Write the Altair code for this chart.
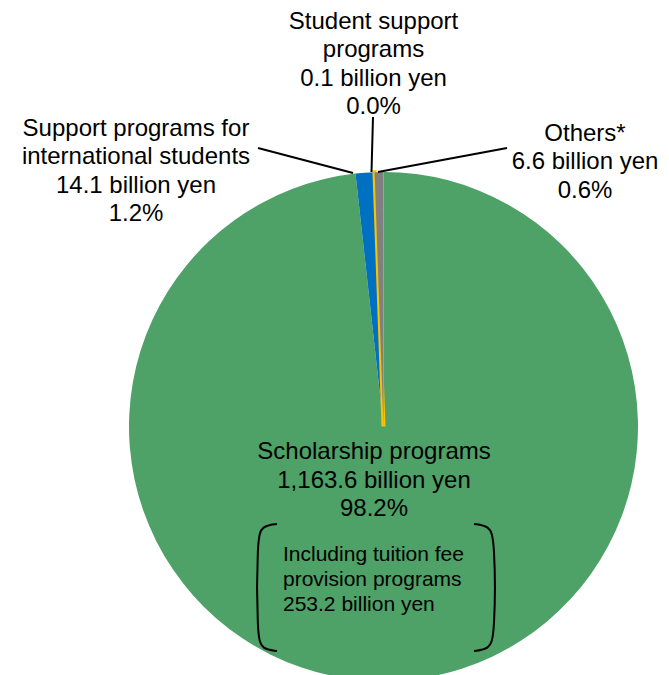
import altair as alt
import pandas as pd

# ---- data ----
categories = ["Scholarship programs", "Support programs for international students",
              "Student support programs", "Others*"]
label_lines = [["Scholarship programs"],
               ["Support programs for", "international students"],
               ["Student support", "programs"],
               ["Others*"]]
values = [1163.6, 14.1, 0.1, 6.6]
colors = ["#4EA167", "#0070C0", "#FFC000", "#808080"]
inner_note = ["Including tuition fee", "provision programs", "253.2 billion yen"]

total = sum(values)
df = pd.DataFrame({"category": categories, "value": values, "idx": range(len(values))})

color_scale = alt.Scale(domain=categories, range=colors)

CX, CY, R = 383.5, 426.5, 254.5

pie = alt.Chart(df).mark_arc(outerRadius=R).encode(
    theta=alt.Theta("value:Q", stack=True),
    color=alt.Color("category:N", scale=color_scale, legend=None),
    stroke=alt.Stroke("category:N", scale=color_scale, legend=None),
    strokeWidth=alt.condition(alt.datum.category == "Student support programs",
                              alt.value(4), alt.value(0)),
    order=alt.Order("idx:Q"),
    x=alt.value(CX), y=alt.value(CY),
)


def fmt_val(v):
    return f"{v:,.1f} billion yen"


def fmt_pct(v):
    return f"{v / total * 100:.1f}%"


def label(i, x, y, lh=28.6, size=24, align="center"):
    lines = label_lines[i] + [fmt_val(values[i]), fmt_pct(values[i])]
    return alt.Chart(pd.DataFrame({"t": ["\n".join(lines)]})).mark_text(
        align=align, baseline="middle", lineBreak="\n", lineHeight=lh,
        font="Liberation Sans", fontSize=size, color="black"
    ).encode(text="t:N", x=alt.value(x), y=alt.value(y))


# y is the centre of each label's first line
labels = [
    label(0, 374, 452),
    label(1, 136, 128.5),
    label(2, 373.5, 21.5),
    label(3, 585, 133.5),
]

note = alt.Chart(pd.DataFrame({"t": ["\n".join(inner_note)]})).mark_text(
    align="left", baseline="middle", lineBreak="\n", lineHeight=25,
    font="Liberation Sans", fontSize=21, color="black"
).encode(text="t:N", x=alt.value(283), y=alt.value(555))


def rule(x1, y1, x2, y2):
    return alt.Chart(pd.DataFrame({"a": [0]})).mark_rule(
        color="black", strokeWidth=2
    ).encode(x=alt.value(x1), y=alt.value(y1), x2=alt.value(x2), y2=alt.value(y2))


leaders = [
    rule(258, 148, 353, 173),
    rule(373, 117, 371.5, 172),
    rule(378, 172, 507, 148),
]

bracket_df = pd.DataFrame({
    "side": ["L"] * 6 + ["R"] * 6,
    "i": list(range(6)) * 2,
    "px": [277, 262, 257, 257, 262, 277, 474, 489, 495, 495, 489, 474],
    "py": [524, 526, 538, 637, 649, 651] * 2,
})
brackets = alt.Chart(bracket_df).mark_line(
    interpolate="basis", color="black", strokeWidth=2
).encode(
    x=alt.X("px:Q", scale=None, axis=None),
    y=alt.Y("py:Q", scale=None, axis=None),
    order="i:Q",
    detail="side:N",
)

chart = alt.layer(pie, *leaders, brackets, note, *labels).properties(
    width=669, height=675,
    autosize=alt.AutoSizeParams(type="none"),
    padding=0,
).configure_view(stroke=None)

chart.save("out.html", embed_options={"renderer": "svg", "actions": False})
